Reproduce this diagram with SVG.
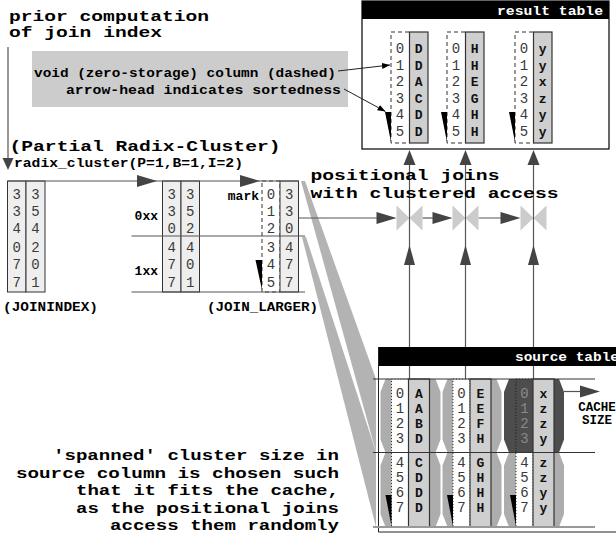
<svg xmlns="http://www.w3.org/2000/svg" width="616" height="535" viewBox="0 0 616 535">
<defs>
<style>
.b{font-family:"Liberation Mono","DejaVu Sans Mono",monospace;font-weight:bold;fill:#000}
.big{font-size:15px}
.med{font-size:13px}
.wt{fill:#fff}
.n{font-family:"Liberation Mono","DejaVu Sans Mono",monospace;font-size:14px;fill:#3a3a3a;text-anchor:middle}
.l{font-family:"Liberation Mono","DejaVu Sans Mono",monospace;font-weight:bold;font-size:13px;fill:#111;text-anchor:middle}
.ln{stroke:#555;stroke-width:1.2;fill:none}
.thin{stroke:#222;stroke-width:1;fill:none}
.lt{fill:#eee;stroke:#333;stroke-width:1}
.gc{fill:#cfcfcf;stroke:#333;stroke-width:1.2}
.dsh{fill:#fff;stroke:#333;stroke-width:1;stroke-dasharray:4 3}
.dot{fill:#fff;stroke:#333;stroke-width:1;stroke-dasharray:1 2}
.hex{fill:#adadad}
.dark{fill:#4d4d4d}
.fan{fill:#b3b3b3}
.wedge{fill:#000}
</style>
<path id="ahR" d="M-20,-6 L0,0 L-20,6 Z" fill="#444"/>
<path id="ahU" d="M-6,15 L0,0 L6,15 Z" fill="#444"/>
<path id="ahU2" d="M-5.5,20 L0,0 L5.5,20 Z" fill="#444"/>
<path id="ahD" d="M-5.5,-12 L0,0 L5.5,-12 Z" fill="#444"/>
<path id="bow" d="M-13,-12.5 L0,0 L-13,12.5 Z M13,-12.5 L0,0 L13,12.5 Z" fill="#cccccc"/>
<marker id="sm" markerWidth="8" markerHeight="6" refX="8" refY="3" orient="auto" markerUnits="userSpaceOnUse"><path d="M0,0 L8,3 L0,6 Z" fill="#000"/></marker>
</defs>
<rect width="616" height="535" fill="#fff"/>

<g id="fans">
<polygon class="fan" points="301,181 305,181 376,379 376,452"/>
<polygon class="fan" points="302,237 306,237 376,452 376,527"/>
</g>

<g id="prior-note">
<text class="b big" x="9" y="20.5" textLength="200" lengthAdjust="spacingAndGlyphs">prior computation</text>
<text class="b big" x="9" y="36.5" textLength="153" lengthAdjust="spacingAndGlyphs">of join index</text>
</g>

<g id="legend">
<rect x="32" y="51" width="316" height="56" fill="#cccccc"/>
<text class="b med" x="34" y="77" textLength="302" lengthAdjust="spacingAndGlyphs">void (zero-storage) column (dashed)</text>
<text class="b med" x="66" y="94" textLength="275" lengthAdjust="spacingAndGlyphs">arrow-head indicates sortedness</text>
</g>

<g id="result-table">
<rect x="362" y="1" width="247" height="148" fill="#fff" stroke="#000" stroke-width="1.2"/>
<rect x="362" y="1" width="247" height="18" fill="#000"/>
<text class="b med wt" x="497" y="14.5" textLength="106" lengthAdjust="spacingAndGlyphs">result table</text>
<rect class="dsh" x="391" y="32" width="18.5" height="111"/>
<rect class="gc" x="409.5" y="32" width="18.5" height="111"/>
<rect class="dsh" x="447" y="32" width="18.5" height="111"/>
<rect class="gc" x="465.5" y="32" width="18.5" height="111"/>
<rect class="dsh" x="515" y="32" width="18.5" height="111"/>
<rect class="gc" x="533.5" y="32" width="18.5" height="111"/>
<polygon class="wedge" points="385,112 391,112 391,142"/>
<polygon class="wedge" points="441,112 447,112 447,142"/>
<polygon class="wedge" points="509,112 515,112 515,142"/>
<g class="n">
<text x="400" y="53">0</text><text x="400" y="69.5">1</text><text x="400" y="86">2</text><text x="400" y="102.5">3</text><text x="400" y="119">4</text><text x="400" y="135.5">5</text>
<text x="456" y="53">0</text><text x="456" y="69.5">1</text><text x="456" y="86">2</text><text x="456" y="102.5">3</text><text x="456" y="119">4</text><text x="456" y="135.5">5</text>
<text x="524" y="53">0</text><text x="524" y="69.5">1</text><text x="524" y="86">2</text><text x="524" y="102.5">3</text><text x="524" y="119">4</text><text x="524" y="135.5">5</text>
</g>
<g class="l">
<text x="418.75" y="53">D</text><text x="418.75" y="69.5">D</text><text x="418.75" y="86">A</text><text x="418.75" y="102.5">C</text><text x="418.75" y="119">D</text><text x="418.75" y="135.5">D</text>
<text x="474.75" y="53">H</text><text x="474.75" y="69.5">H</text><text x="474.75" y="86">E</text><text x="474.75" y="102.5">G</text><text x="474.75" y="119">H</text><text x="474.75" y="135.5">H</text>
<text x="542.75" y="53">y</text><text x="542.75" y="69.5">y</text><text x="542.75" y="86">x</text><text x="542.75" y="102.5">z</text><text x="542.75" y="119">y</text><text x="542.75" y="135.5">y</text>
</g>
</g>

<g id="radix-title">
<text class="b big" x="9.5" y="151" textLength="271" lengthAdjust="spacingAndGlyphs">(Partial Radix-Cluster)</text>
<text class="b med" x="14" y="167" textLength="229" lengthAdjust="spacingAndGlyphs">radix_cluster(P=1,B=1,I=2)</text>
</g>

<g id="joinindex">
<rect class="lt" x="7.5" y="181" width="18.5" height="111"/>
<rect class="lt" x="26" y="181" width="19" height="111"/>
<g class="n">
<text x="16.75" y="199">3</text><text x="16.75" y="216">3</text><text x="16.75" y="233">4</text><text x="16.75" y="252">0</text><text x="16.75" y="269">7</text><text x="16.75" y="287">7</text>
<text x="35.5" y="199">3</text><text x="35.5" y="216">5</text><text x="35.5" y="233">4</text><text x="35.5" y="252">2</text><text x="35.5" y="269">0</text><text x="35.5" y="287">1</text>
</g>
<text class="b med" x="3" y="311" textLength="95" lengthAdjust="spacingAndGlyphs">(JOININDEX)</text>
</g>

<g id="radix-cluster">
<rect class="lt" x="162.5" y="181" width="18.5" height="111"/>
<rect class="lt" x="181" y="181" width="18.5" height="111"/>
<g class="n">
<text x="171.75" y="199">3</text><text x="171.75" y="216">3</text><text x="171.75" y="233">0</text><text x="171.75" y="252">4</text><text x="171.75" y="269">7</text><text x="171.75" y="287">7</text>
<text x="190.25" y="199">3</text><text x="190.25" y="216">5</text><text x="190.25" y="233">2</text><text x="190.25" y="252">4</text><text x="190.25" y="269">0</text><text x="190.25" y="287">1</text>
</g>
<text class="b med" x="158" y="220" text-anchor="end">0xx</text>
<text class="b med" x="158" y="275" text-anchor="end">1xx</text>
</g>

<g id="join-larger">
<rect class="dsh" x="262" y="181" width="18" height="111"/>
<rect class="lt" x="280" y="181" width="18.5" height="111"/>
<polygon class="wedge" points="255.5,260 262,260 262,290"/>
<g class="n">
<text x="271" y="199">0</text><text x="271" y="216">1</text><text x="271" y="233">2</text><text x="271" y="252">3</text><text x="271" y="269">4</text><text x="271" y="287">5</text>
<text x="289.25" y="199">3</text><text x="289.25" y="216">3</text><text x="289.25" y="233">0</text><text x="289.25" y="252">4</text><text x="289.25" y="269">7</text><text x="289.25" y="287">7</text>
</g>
<text class="b med" x="259" y="200" text-anchor="end">mark</text>
<text class="b med" x="207" y="311" textLength="111" lengthAdjust="spacingAndGlyphs">(JOIN_LARGER)</text>
</g>

<g id="connectors">
<line class="ln" x1="8" y1="47" x2="8" y2="160"/>
<use href="#ahD" transform="translate(8,170)"/>
<line class="ln" x1="8" y1="181" x2="299" y2="181"/>
<use href="#ahR" transform="translate(157,181)"/>
<use href="#ahR" transform="translate(260,181)"/>
<line class="ln" x1="131.5" y1="236" x2="305" y2="236"/>
<line class="ln" x1="131.5" y1="292" x2="305" y2="292"/>
<line class="thin" x1="338" y1="71" x2="390" y2="65" marker-end="url(#sm)"/>
<line class="thin" x1="344" y1="89" x2="385.5" y2="111.5" marker-end="url(#sm)"/>
<line class="ln" x1="298.5" y1="218" x2="390" y2="218"/>
<use href="#ahR" transform="translate(396.5,218)"/>
<line class="ln" x1="422.5" y1="218" x2="445" y2="218"/>
<use href="#ahR" transform="translate(452.5,218)"/>
<line class="ln" x1="478.5" y1="218" x2="514" y2="218"/>
<use href="#ahR" transform="translate(520.5,218)"/>
<line class="ln" x1="564" y1="391.5" x2="594" y2="391.5"/>
<use href="#ahR" transform="translate(600,391.5)"/>
</g>

<g id="positional-joins">
<use href="#bow" transform="translate(409.5,218)"/>
<use href="#bow" transform="translate(465.5,218)"/>
<use href="#bow" transform="translate(533.5,218)"/>
<line class="ln" x1="409.5" y1="155" x2="409.5" y2="379"/>
<line class="ln" x1="465.5" y1="155" x2="465.5" y2="379"/>
<line class="ln" x1="533.5" y1="155" x2="533.5" y2="379"/>
<use href="#ahU" transform="translate(409.5,150)"/>
<use href="#ahU" transform="translate(465.5,150)"/>
<use href="#ahU" transform="translate(533.5,150)"/>
<use href="#ahU2" transform="translate(409.5,245)"/>
<use href="#ahU2" transform="translate(465.5,245)"/>
<use href="#ahU2" transform="translate(533.5,245)"/>
<text class="b big" x="310.5" y="180" textLength="189" lengthAdjust="spacingAndGlyphs">positional joins</text>
<text class="b big" x="310.5" y="197.5" textLength="248" lengthAdjust="spacingAndGlyphs">with clustered access</text>
</g>

<g id="source-table">
<polygon class="hex" points="385.5,379 435.5,379 440.5,392 440.5,439.5 435.5,452.5 385.5,452.5 380.5,439.5 380.5,392"/>
<polygon class="hex" points="385.5,452.5 435.5,452.5 440.5,465.5 440.5,514 435.5,527 385.5,527 380.5,514 380.5,465.5"/>
<polygon class="hex" points="447.5,379 496.5,379 501.5,392 501.5,439.5 496.5,452.5 447.5,452.5 442.5,439.5 442.5,392"/>
<polygon class="hex" points="447.5,452.5 496.5,452.5 501.5,465.5 501.5,514 496.5,527 447.5,527 442.5,514 442.5,465.5"/>
<polygon class="dark" points="509,379 559,379 564,392 564,439.5 559,452.5 509,452.5 504,439.5 504,392"/>
<polygon class="hex" points="509,452.5 559,452.5 564,465.5 564,514 559,527 509,527 504,514 504,465.5"/>
<rect x="378.5" y="347" width="240" height="19" fill="#000"/>
<text class="b med wt" x="515" y="361" textLength="104" lengthAdjust="spacingAndGlyphs">source table</text>
<line x1="378.5" y1="347" x2="378.5" y2="532" stroke="#222" stroke-width="1"/>
<line x1="378.5" y1="532" x2="616" y2="532" stroke="#222" stroke-width="1"/>
<rect class="dot" x="391.5" y="379" width="17" height="148"/>
<rect class="gc" x="408.5" y="379" width="21" height="148"/>
<rect class="dot" x="453" y="379" width="17" height="148"/>
<rect class="gc" x="470" y="379" width="21" height="148"/>
<rect class="dot" x="516" y="379" width="17" height="148"/>
<rect x="516" y="379" width="17" height="73.5" fill="#4d4d4d"/>
<line x1="516" y1="379" x2="516" y2="452.5" stroke="#222" stroke-width="1" stroke-dasharray="1 2"/>
<rect class="gc" x="533" y="379" width="21" height="148"/>
<line x1="373" y1="379" x2="595" y2="379" stroke="#333" stroke-width="1"/>
<line x1="373" y1="452.5" x2="595" y2="452.5" stroke="#333" stroke-width="1"/>
<line x1="373" y1="527" x2="595" y2="527" stroke="#999" stroke-width="2"/>
<polygon class="wedge" points="385.5,495 391.5,495 391.5,526"/>
<polygon class="wedge" points="447,495 453,495 453,526"/>
<polygon class="wedge" points="510,495 516,495 516,526"/>
<g class="n">
<text x="400" y="398">0</text><text x="400" y="413">1</text><text x="400" y="427.5">2</text><text x="400" y="442.5">3</text><text x="400" y="467">4</text><text x="400" y="482">5</text><text x="400" y="497">6</text><text x="400" y="512">7</text>
<text x="461.5" y="398">0</text><text x="461.5" y="413">1</text><text x="461.5" y="427.5">2</text><text x="461.5" y="442.5">3</text><text x="461.5" y="467">4</text><text x="461.5" y="482">5</text><text x="461.5" y="497">6</text><text x="461.5" y="512">7</text>
<text x="524.5" y="398" style="fill:#8a8a8a">0</text><text x="524.5" y="413" style="fill:#8a8a8a">1</text><text x="524.5" y="427.5" style="fill:#8a8a8a">2</text><text x="524.5" y="442.5" style="fill:#8a8a8a">3</text><text x="524.5" y="467">4</text><text x="524.5" y="482">5</text><text x="524.5" y="497">6</text><text x="524.5" y="512">7</text>
</g>
<g class="l">
<text x="419" y="398">A</text><text x="419" y="413">A</text><text x="419" y="427.5">B</text><text x="419" y="442.5">D</text><text x="419" y="467">C</text><text x="419" y="482">D</text><text x="419" y="497">D</text><text x="419" y="512">D</text>
<text x="480.5" y="398">E</text><text x="480.5" y="413">E</text><text x="480.5" y="427.5">F</text><text x="480.5" y="442.5">H</text><text x="480.5" y="467">G</text><text x="480.5" y="482">H</text><text x="480.5" y="497">H</text><text x="480.5" y="512">H</text>
<text x="543.5" y="398">x</text><text x="543.5" y="413">z</text><text x="543.5" y="427.5">z</text><text x="543.5" y="442.5">y</text><text x="543.5" y="467">z</text><text x="543.5" y="482">z</text><text x="543.5" y="497">y</text><text x="543.5" y="512">y</text>
</g>
</g>

<g id="cache-note">
<text class="b" x="597" y="411" text-anchor="middle" font-size="12.5">CACHE</text>
<text class="b" x="597" y="424" text-anchor="middle" font-size="12.5">SIZE</text>
</g>

<g id="spanned-note">
<text class="b big" x="53" y="460" textLength="286" lengthAdjust="spacingAndGlyphs">'spanned' cluster size in</text>
<text class="b big" x="16" y="477.5" textLength="323" lengthAdjust="spacingAndGlyphs">source column is chosen such</text>
<text class="b big" x="76" y="495" textLength="263" lengthAdjust="spacingAndGlyphs">that it fits the cache,</text>
<text class="b big" x="76" y="512.5" textLength="263" lengthAdjust="spacingAndGlyphs">as the positional joins</text>
<text class="b big" x="110" y="530" textLength="229" lengthAdjust="spacingAndGlyphs">access them randomly</text>
</g>
</svg>
